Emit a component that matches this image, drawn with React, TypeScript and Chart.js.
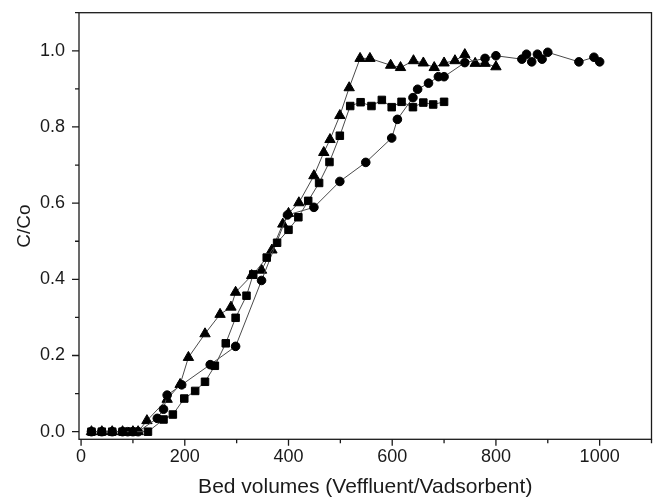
import React, { useEffect, useRef } from "react";
import { Chart, registerables } from "chart.js";

Chart.register(...registerables);

// Series: circles
const circleX = [20, 40, 60, 80, 90, 100, 110, 147, 159, 166, 194, 249, 298, 348, 398, 449, 499, 549, 599, 610, 640, 649, 670, 689, 700, 740, 779, 800, 850, 859, 869, 880, 889, 900, 960, 989, 1000];
const circleY = [0, 0, 0, 0, 0, 0, 0, 0.035, 0.059, 0.096, 0.123, 0.176, 0.224, 0.397, 0.569, 0.589, 0.657, 0.707, 0.771, 0.82, 0.877, 0.899, 0.915, 0.932, 0.932, 0.969, 0.98, 0.987, 0.978, 0.991, 0.971, 0.991, 0.978, 0.996, 0.971, 0.983, 0.971];

// Series: squares
const squareX = [20, 40, 60, 80, 100, 129, 159, 177, 199, 220, 239, 258, 279, 298, 319, 332, 358, 378, 400, 419, 438, 459, 479, 499, 519, 539, 560, 580, 599, 618, 640, 660, 679, 700];
const squareY = [0, 0, 0, 0, 0, 0, 0.032, 0.045, 0.087, 0.107, 0.131, 0.173, 0.232, 0.299, 0.357, 0.413, 0.457, 0.496, 0.53, 0.563, 0.606, 0.653, 0.708, 0.777, 0.855, 0.865, 0.855, 0.871, 0.852, 0.866, 0.852, 0.864, 0.859, 0.866];

// Series: triangles
const triangleX = [20, 40, 60, 80, 100, 110, 127, 166, 191, 207, 239, 268, 289, 298, 329, 348, 368, 389, 400, 420, 449, 468, 480, 499, 517, 538, 557, 597, 616, 641, 660, 681, 700, 721, 740, 760, 779, 800];
const triangleY = [0, 0, 0, 0, 0, 0, 0.029, 0.085, 0.124, 0.195, 0.257, 0.308, 0.327, 0.366, 0.41, 0.424, 0.477, 0.545, 0.573, 0.601, 0.672, 0.733, 0.767, 0.83, 0.903, 0.98, 0.98, 0.962, 0.956, 0.974, 0.968, 0.956, 0.968, 0.974, 0.99, 0.967, 0.967, 0.958];

// Axis ticks
const xMajorTicks = [0, 200, 400, 600, 800, 1000];
const xMinorTicks = [100, 300, 500, 700, 900, 1100];
const yMajorTicks = [0, 0.2, 0.4, 0.6, 0.8, 1.0];
const yMinorTicks = [0.1, 0.3, 0.5, 0.7, 0.9, 1.1];

const xTitle = "Bed volumes (Veffluent/Vadsorbent)";
const yTitle = "C/Co";

const FONT = "'Liberation Sans', Arial, Helvetica, sans-serif";

export default function App() {
  const ref = useRef<HTMLCanvasElement | null>(null);

  useEffect(() => {
    if (!ref.current) return;
    const toPts = (xs: number[], ys: number[]) => xs.map((x, i) => ({ x, y: ys[i] }));

    const framePlugin = {
      id: "frameTicks",
      afterDraw(chart: any) {
        const { ctx, chartArea: a, scales } = chart;
        const xs = scales.x;
        const ys = scales.y;
        ctx.save();
        ctx.strokeStyle = "#1a1a1a";
        ctx.lineWidth = 1.3;
        ctx.strokeRect(a.left, a.top, a.right - a.left, a.bottom - a.top);
        ctx.beginPath();
        xMajorTicks.forEach((v) => {
          const p = xs.getPixelForValue(v);
          ctx.moveTo(p, a.bottom);
          ctx.lineTo(p, a.bottom + 6.5);
        });
        xMinorTicks.forEach((v) => {
          const p = xs.getPixelForValue(v);
          ctx.moveTo(p, a.bottom);
          ctx.lineTo(p, a.bottom + 4);
        });
        yMajorTicks.forEach((v) => {
          const p = ys.getPixelForValue(v);
          ctx.moveTo(a.left, p);
          ctx.lineTo(a.left - 7, p);
        });
        yMinorTicks.forEach((v) => {
          const p = ys.getPixelForValue(v);
          ctx.moveTo(a.left, p);
          ctx.lineTo(a.left - 4, p);
        });
        ctx.stroke();
        ctx.restore();
      },
    };

    const common = {
      showLine: true,
      borderColor: "#4a4a4a",
      borderWidth: 1,
      backgroundColor: "#000000",
      pointBackgroundColor: "#000000",
      pointBorderColor: "#000000",
      pointBorderWidth: 1,
      tension: 0,
    };

    const chart = new Chart(ref.current, {
      type: "scatter",
      data: {
        datasets: [
          { ...common, data: toPts(squareX, squareY), pointStyle: "rect", pointRadius: 5.3 },
          { ...common, data: toPts(circleX, circleY), pointStyle: "circle", pointRadius: 4.3 },
          { ...common, data: toPts(triangleX, triangleY), pointStyle: "triangle", pointRadius: 6 },
        ],
      } as any,
      options: {
        animation: false,
        responsive: false,
        events: [],
        layout: { autoPadding: false, padding: { top: 12.7, right: 1.5, left: 0, bottom: 0 } },
        plugins: { legend: { display: false }, tooltip: { enabled: false } },
        scales: {
          x: {
            type: "linear",
            min: -4,
            max: 1100,
            grid: { display: false, drawTicks: false },
            border: { display: false },
            afterBuildTicks: (s: any) => {
              s.ticks = xMajorTicks.map((v) => ({ value: v }));
            },
            afterFit: (s: any) => {
              s.height = 58.7;
              s.paddingLeft = 0;
              s.paddingRight = 0;
            },
            ticks: {
              padding: 7,
              color: "#1a1a1a",
              font: { family: FONT, size: 18 },
              maxRotation: 0,
              autoSkip: false,
              callback: (v: any) => String(v),
            },
            title: {
              display: true,
              text: xTitle,
              color: "#1a1a1a",
              font: { family: FONT, size: 21, lineHeight: 1 },
              padding: { top: 0, bottom: 0 },
            },
          },
          y: {
            type: "linear",
            min: -0.02,
            max: 1.1,
            grid: { display: false, drawTicks: false },
            border: { display: false },
            afterBuildTicks: (s: any) => {
              s.ticks = yMajorTicks.map((v) => ({ value: v }));
            },
            afterFit: (s: any) => {
              s.width = 79;
              s.paddingTop = 0;
              s.paddingBottom = 0;
            },
            ticks: {
              padding: 14,
              color: "#1a1a1a",
              font: { family: FONT, size: 18 },
              autoSkip: false,
              callback: (v: any) => Number(v).toFixed(1),
            },
            title: {
              display: true,
              text: yTitle,
              color: "#1a1a1a",
              font: { family: FONT, size: 19, lineHeight: 1 },
              padding: { top: 15.5, bottom: 0 },
            },
          },
        },
      } as any,
      plugins: [framePlugin],
    });

    return () => chart.destroy();
  }, []);

  return (
    <div style={{ position: "absolute", left: 0, top: 0, width: 653, height: 498, background: "#fff" }}>
      <canvas ref={ref} width={653} height={498} style={{ display: "block", width: 653, height: 498 }} />
    </div>
  );
}
